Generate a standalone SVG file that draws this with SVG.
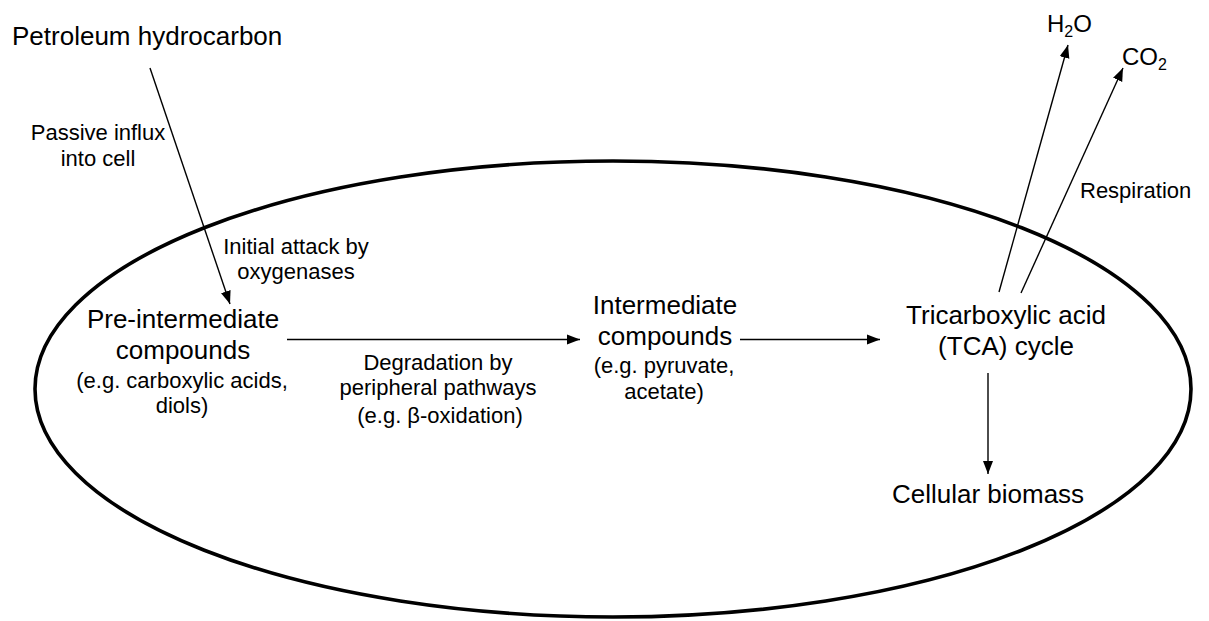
<svg xmlns="http://www.w3.org/2000/svg" width="1209" height="621" viewBox="0 0 1209 621">
  <style>
    text { font-family: "Liberation Sans", Arial, sans-serif; fill: #000; }
    .big { font-size: 26px; }
    .small { font-size: 22px; }
    .chem { font-size: 24px; }
    .mid { text-anchor: middle; }
    .conn { stroke: #000; stroke-width: 1.4; fill: none; marker-end: url(#arrow); }
    .cell { fill: none; stroke: #000; stroke-width: 3.6; }
  </style>
  <defs>
    <marker id="arrow" markerUnits="userSpaceOnUse" markerWidth="14" markerHeight="12" viewBox="0 0 14 12" refX="13" refY="6" orient="auto">
      <path d="M0,1 L13,6 L0,11 Z" fill="#000"/>
    </marker>
  </defs>
  <rect width="1209" height="621" fill="#fff"/>

  <g id="cell">
    <ellipse class="cell" cx="613" cy="389" rx="578" ry="228"/>
  </g>

  <g id="connectors">
    <line class="conn" x1="150" y1="68" x2="230" y2="304"/>
    <line class="conn" x1="287" y1="339.5" x2="580" y2="339.5"/>
    <line class="conn" x1="740" y1="339.5" x2="880" y2="339.5"/>
    <line class="conn" x1="988" y1="373" x2="988" y2="474"/>
    <line class="conn" x1="999" y1="292" x2="1068" y2="45"/>
    <line class="conn" x1="1021" y1="293" x2="1123" y2="68"/>
  </g>

  <g id="petroleum">
    <text class="big" x="12" y="45">Petroleum hydrocarbon</text>
  </g>
  <g id="label-influx">
    <text class="small mid" x="98" y="140">Passive influx</text>
    <text class="small mid" x="98" y="166">into cell</text>
  </g>
  <g id="label-attack">
    <text class="small mid" x="296" y="254">Initial attack by</text>
    <text class="small mid" x="296" y="279">oxygenases</text>
  </g>
  <g id="pre-intermediate">
    <text class="big mid" x="183" y="328">Pre-intermediate</text>
    <text class="big mid" x="183" y="359">compounds</text>
    <text class="small mid" x="182" y="388">(e.g. carboxylic acids,</text>
    <text class="small mid" x="182" y="413">diols)</text>
  </g>
  <g id="label-degradation">
    <text class="small mid" x="438" y="370">Degradation by</text>
    <text class="small mid" x="438" y="395">peripheral pathways</text>
    <text class="small mid" x="440" y="423">(e.g. β-oxidation)</text>
  </g>
  <g id="intermediate">
    <text class="big mid" x="665" y="314">Intermediate</text>
    <text class="big mid" x="665" y="345">compounds</text>
    <text class="small mid" x="664" y="373">(e.g. pyruvate,</text>
    <text class="small mid" x="664" y="399">acetate)</text>
  </g>
  <g id="tca">
    <text class="big mid" x="1006" y="324">Tricarboxylic acid</text>
    <text class="big mid" x="1006" y="355">(TCA) cycle</text>
  </g>
  <g id="biomass">
    <text class="big mid" x="988" y="503">Cellular biomass</text>
  </g>
  <g id="h2o">
    <text class="chem" x="1047" y="32">H<tspan font-size="16" dy="5">2</tspan><tspan dy="-5">O</tspan></text>
  </g>
  <g id="co2">
    <text class="chem" x="1122" y="65">CO<tspan font-size="16" dy="5">2</tspan></text>
  </g>
  <g id="label-respiration">
    <text class="small" x="1080" y="198">Respiration</text>
  </g>
</svg>
